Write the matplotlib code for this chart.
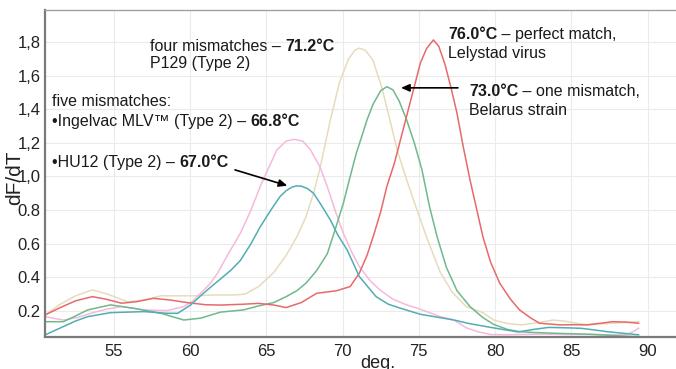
import matplotlib
matplotlib.use("Agg")
import matplotlib.pyplot as plt

plt.rcParams['font.family'] = ['Liberation Sans', 'DejaVu Sans']

# ---- data ----
red_x = [50.5, 51.5, 52.5, 53.6, 54.5, 55.5, 56.5, 57.6, 58.7, 59.8, 61.0, 62.0, 63.5, 64.5, 65.5,
         66.3, 67.3, 68.3, 69.6, 70.5, 71.1, 71.6, 72.0, 72.5, 72.9, 73.4, 73.8, 74.4, 75.1, 75.5,
         75.95, 76.3, 76.7, 77.1, 77.5, 77.9, 78.35, 78.8, 79.2, 79.7, 80.3, 81.0, 81.6, 82.3, 82.9,
         84.25, 85.0, 86.0, 87.0, 87.7, 88.5, 89.4]
red_y = [0.176, 0.22, 0.26, 0.285, 0.27, 0.246, 0.255, 0.275, 0.265, 0.25, 0.237, 0.235, 0.24, 0.245, 0.235,
         0.22, 0.25, 0.305, 0.32, 0.345, 0.425, 0.53, 0.64, 0.79, 0.94, 1.08, 1.22, 1.43, 1.675, 1.76,
         1.812, 1.775, 1.67, 1.53, 1.376, 1.18, 0.98, 0.80, 0.64, 0.49, 0.365, 0.27, 0.206, 0.16, 0.127,
         0.117, 0.118, 0.117, 0.128, 0.136, 0.134, 0.127]

beige_x = [50.5, 51.5, 52.5, 53.6, 54.6, 55.9, 57.0, 58.1, 59.2, 60.3, 61.6, 62.9, 63.6, 64.5, 65.5,
           66.3, 67.0, 67.6, 68.1, 68.5, 69.2, 69.8, 70.4, 70.8, 71.1, 71.5, 72.0, 72.6, 73.1, 73.6,
           74.2, 74.8, 75.5, 76.4, 77.2, 78.1, 79.2, 79.9, 80.8, 81.7, 82.8, 83.8, 84.5, 85.3, 86.15,
           87.3, 88.3, 89.4]
beige_y = [0.176, 0.24, 0.29, 0.325, 0.30, 0.255, 0.265, 0.29, 0.29, 0.29, 0.295, 0.295, 0.30, 0.345, 0.43,
           0.53, 0.64, 0.76, 0.90, 1.04, 1.336, 1.56, 1.70, 1.75, 1.763, 1.75, 1.69, 1.52, 1.336, 1.15,
           0.98, 0.82, 0.64, 0.43, 0.31, 0.226, 0.19, 0.146, 0.125, 0.117, 0.13, 0.146, 0.14, 0.127, 0.117,
           0.125, 0.13, 0.136]

green_x = [50.5, 51.7, 52.5, 53.3, 54.8, 56.3, 58.1, 59.6, 60.7, 62.0, 63.5, 64.5, 65.5, 66.3, 67.0,
           67.6, 68.3, 69.0, 69.5, 70.05, 70.5, 70.9, 71.3, 71.6, 72.0, 72.5, 72.9, 73.3, 73.7, 74.2,
           74.7, 75.2, 75.7, 76.2, 76.8, 77.5, 78.35, 79.2, 79.9, 80.8, 81.6, 82.5, 84.0, 86.0, 87.5,
           88.5, 89.4]
green_y = [0.136, 0.136, 0.17, 0.206, 0.236, 0.216, 0.186, 0.146, 0.157, 0.193, 0.206, 0.23, 0.25, 0.285, 0.32,
           0.365, 0.44, 0.54, 0.68, 0.84, 1.0, 1.138, 1.25, 1.336, 1.43, 1.51, 1.534, 1.515, 1.45, 1.336,
           1.2, 1.04, 0.82, 0.64, 0.46, 0.32, 0.226, 0.16, 0.12, 0.09, 0.077, 0.072, 0.067, 0.062, 0.055,
           0.05, 0.047]

pink_x = [50.5, 51.7, 52.6, 53.5, 54.5, 55.5, 57.0, 58.5, 59.6, 60.2, 60.7, 61.3, 61.8, 62.45, 63.3,
          64.0, 64.6, 65.2, 65.7, 66.3, 66.8, 67.4, 67.9, 68.5, 69.0, 69.5, 70.05, 70.6, 71.1, 71.8,
          72.45, 73.3, 74.2, 75.1, 76.4, 77.3, 78.1, 78.9, 79.7, 80.6, 81.6, 83.0, 85.0, 86.5, 88.0,
          88.6, 89.0, 89.4]
pink_y = [0.166, 0.146, 0.16, 0.186, 0.21, 0.226, 0.206, 0.202, 0.226, 0.26, 0.305, 0.36, 0.424, 0.53, 0.662,
          0.80, 0.94, 1.06, 1.158, 1.21, 1.221, 1.21, 1.158, 1.06, 0.94, 0.80, 0.662, 0.55, 0.464, 0.38,
          0.325, 0.27, 0.236, 0.21, 0.166, 0.146, 0.10, 0.075, 0.06, 0.058, 0.06, 0.062, 0.06, 0.06, 0.058,
          0.06, 0.075, 0.097]

teal_x = [50.5, 51.7, 52.5, 53.3, 54.8, 57.0, 58.5, 59.2, 60.05, 60.7, 61.4, 62.0, 62.7, 63.3, 64.0,
          64.6, 65.3, 65.9, 66.3, 66.7, 67.0, 67.3, 67.7, 68.1, 68.6, 69.2, 69.7, 70.3, 71.1, 72.2, 73.0,
          73.8, 75.1, 76.4, 77.3, 78.3, 79.4, 80.5, 81.5, 82.5, 83.5, 84.5, 85.6, 86.5, 87.3, 88.3, 89.4]
teal_y = [0.057, 0.107, 0.14, 0.166, 0.19, 0.196, 0.186, 0.186, 0.236, 0.29, 0.345, 0.39, 0.444, 0.50, 0.60,
          0.70, 0.80, 0.88, 0.915, 0.937, 0.944, 0.942, 0.928, 0.90, 0.83, 0.741, 0.65, 0.563, 0.404, 0.285, 0.24,
          0.216, 0.18, 0.16, 0.146, 0.125, 0.107, 0.09, 0.075, 0.09, 0.102, 0.10, 0.097, 0.087, 0.077, 0.068, 0.058]

x_ticks = [55, 60, 65, 70, 75, 80, 85, 90]
y_ticks = [0.2, 0.4, 0.6, 0.8, 1.0, 1.2, 1.4, 1.6, 1.8]
y_tick_labels = ['0.2', '0.4', '0.6', '0.8', '1,0', '1,2', '1,4', '1,6', '1,8']

# ---- figure ----
W, H = 676, 369
fig = plt.figure(figsize=(W / 100, H / 100), dpi=100)
ax = fig.add_axes([45 / W, 32 / H, 631 / W, 327 / H])

ax.plot(beige_x, beige_y, color='#e6dcbc', lw=1.1)
ax.plot(pink_x, pink_y, color='#f5b9dc', lw=1.1)
ax.plot(green_x, green_y, color='#6fb98c', lw=1.1)
ax.plot(red_x, red_y, color='#e8696b', lw=1.1)
ax.plot(teal_x, teal_y, color='#52adb3', lw=1.1)

ax.set_xlim(50.5, 91.85)
ax.set_ylim(0.045, 1.99)
ax.set_xticks(x_ticks)
ax.set_yticks(y_ticks)
ax.set_yticklabels(y_tick_labels)
ax.tick_params(axis='both', length=0, labelsize=12, labelcolor='#222222')
ax.tick_params(axis='y', pad=3)
ax.tick_params(axis='x', pad=5)
ax.grid(True, color='#ebebeb', lw=0.8)
ax.set_axisbelow(True)
for s in ['left', 'bottom']:
    ax.spines[s].set_color('#7a7a7a')
    ax.spines[s].set_linewidth(1.6)
ax.spines['top'].set_color('#a0a0a0')
ax.spines['top'].set_linewidth(1.0)
ax.spines['right'].set_visible(False)

ax.set_ylabel('dF/dT', fontsize=15, color='#222222')
ax.yaxis.set_label_coords(-21 / 631, (337 - 178) / 327)
ax.set_xlabel('deg.', fontsize=13, color='#222222')
ax.xaxis.set_label_coords((378 - 45) / 631, -27 / 327)
ax.xaxis.label.set_va('center')

FS = 11.5
TC = '#1a1a1a'


def rich(x, y, pieces):
    prev = None
    for txt, bold in pieces:
        w = 'bold' if bold else 'normal'
        if prev is None:
            prev = ax.text(x, y, txt, fontsize=FS, fontweight=w, color=TC,
                           ha='left', va='bottom')
        else:
            prev = ax.annotate(txt, xy=(1, 0), xycoords=prev, fontsize=FS,
                               fontweight=w, color=TC, ha='left', va='bottom')
    return prev


rich(57.38, 1.73, [('four mismatches \u2013 ', False), ('71.2°C', True)])
rich(57.38, 1.625, [('P129 (Type 2)', False)])
rich(50.94, 1.40, [('five mismatches:', False)])
rich(50.94, 1.28, [('\u2022Ingelvac MLV\u2122 (Type 2) \u2013 ', False), ('66.8°C', True)])
rich(50.94, 1.038, [('\u2022HU12 (Type 2) \u2013 ', False), ('67.0°C', True)])
rich(76.91, 1.80, [('76.0°C', True), (' \u2013 perfect match,', False)])
rich(76.91, 1.685, [('Lelystad virus', False)])
rich(78.28, 1.463, [('73.0°C', True), (' \u2013 one mismatch,', False)])
rich(78.28, 1.348, [('Belarus strain', False)])

arrow_kw = dict(arrowstyle='-|>,head_length=0.5,head_width=0.22', color='black', lw=1.2,
                shrinkA=0, shrinkB=0)
ax.annotate('', xy=(73.83, 1.527), xytext=(77.56, 1.527), arrowprops=arrow_kw)
ax.annotate('', xy=(66.38, 0.945), xytext=(62.95, 1.039), arrowprops=arrow_kw)

fig.savefig('out.png', dpi=100)
